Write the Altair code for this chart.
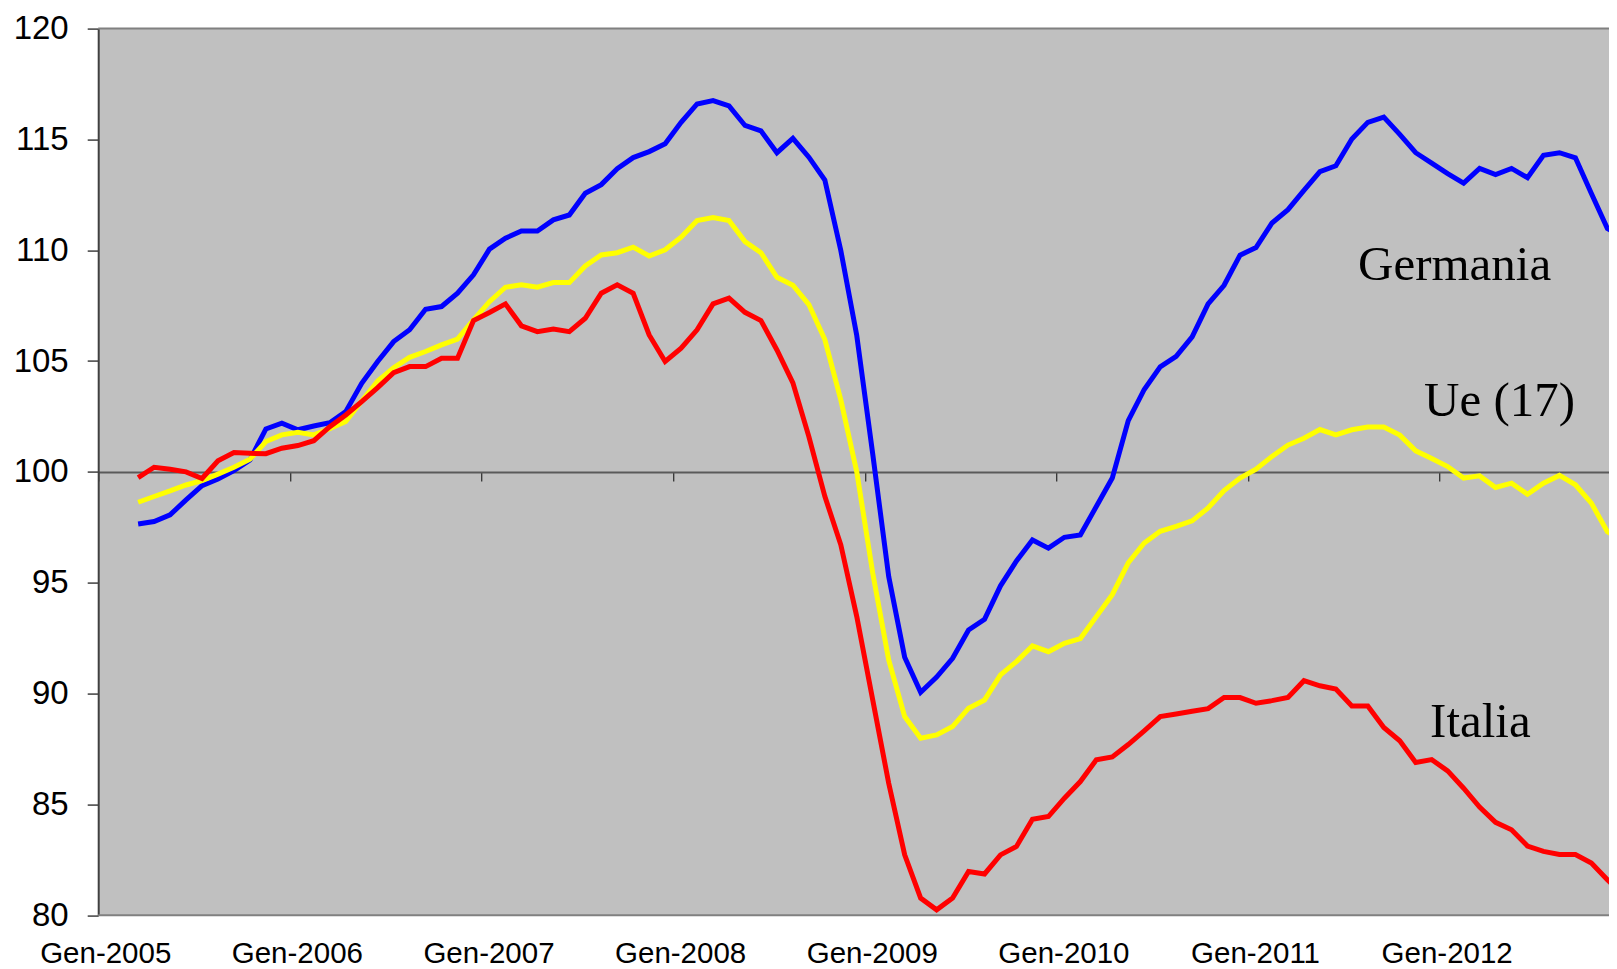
import altair as alt
import pandas as pd

# Month index: 0 = Gen-2005; data start at Mar-2005 (index 2)
FIRST_MONTH = 2
MESI = ["Gen", "Feb", "Mar", "Apr", "Mag", "Giu", "Lug", "Ago", "Set", "Ott", "Nov", "Dic"]

germania = [97.65, 97.76, 98.06, 98.74, 99.38, 99.68, 100.06, 100.54, 101.94, 102.20,
            101.90, 102.07, 102.22, 102.72, 104.0, 104.98, 105.88, 106.41, 107.34, 107.46,
            108.06, 108.89, 110.05, 110.54, 110.87, 110.87, 111.37, 111.59, 112.57, 112.96,
            113.68, 114.18, 114.45, 114.80, 115.77, 116.60, 116.75, 116.51, 115.63, 115.39,
            114.40, 115.05, 114.20, 113.17, 109.99, 106.15, 100.8, 95.28, 91.64, 90.06,
            90.74, 91.59, 92.87, 93.35, 94.86, 95.98, 96.93, 96.56, 97.05, 97.15,
            98.44, 99.72, 102.31, 103.72, 104.74, 105.21, 106.09, 107.58, 108.42, 109.78,
            110.12, 111.23, 111.83, 112.70, 113.55, 113.81, 115.02, 115.77, 116.01, 115.23,
            114.40, 113.93, 113.46, 113.03, 113.69, 113.41, 113.69, 113.27, 114.28, 114.40,
            114.17, 112.56, 110.98, 110.6]

ue17 = [98.63, 98.89, 99.14, 99.41, 99.61, 99.90, 100.21, 100.57, 101.37, 101.67,
        101.79, 101.67, 101.95, 102.27, 103.2, 104.1, 104.7, 105.17, 105.43, 105.73,
        105.99, 106.86, 107.68, 108.33, 108.44, 108.33, 108.54, 108.54, 109.29, 109.79,
        109.89, 110.14, 109.74, 110.02, 110.59, 111.34, 111.47, 111.34, 110.39, 109.89,
        108.78, 108.42, 107.55, 105.97, 103.25, 100.0, 95.43, 91.52, 88.96, 87.98,
        88.13, 88.51, 89.34, 89.71, 90.84, 91.44, 92.15, 91.89, 92.27, 92.48,
        93.47, 94.46, 95.9, 96.79, 97.32, 97.54, 97.79, 98.37, 99.16, 99.72,
        100.12, 100.70, 101.21, 101.52, 101.91, 101.67, 101.90, 102.02, 102.02, 101.66,
        100.95, 100.60, 100.24, 99.72, 99.82, 99.30, 99.49, 98.99, 99.49, 99.84,
        99.42, 98.59, 97.30, 96.9]

italia = [99.74, 100.21, 100.12, 100.0, 99.70, 100.5, 100.87, 100.84, 100.82, 101.07,
          101.19, 101.41, 102.04, 102.57, 103.17, 103.8, 104.48, 104.75, 104.75, 105.13,
          105.13, 106.83, 107.19, 107.58, 106.59, 106.33, 106.45, 106.33, 106.93, 108.06,
          108.44, 108.06, 106.18, 104.98, 105.58, 106.41, 107.58, 107.84, 107.2, 106.83,
          105.50, 104.02, 101.59, 98.9, 96.71, 93.47, 89.71, 85.95, 82.72, 80.77,
          80.24, 80.77, 81.97, 81.86, 82.72, 83.10, 84.33, 84.45, 85.28, 86.03,
          87.01, 87.14, 87.7, 88.32, 88.96, 89.08, 89.20, 89.32, 89.82, 89.82,
          89.56, 89.68, 89.82, 90.58, 90.35, 90.20, 89.44, 89.44, 88.47, 87.87,
          86.89, 87.02, 86.51, 85.73, 84.88, 84.19, 83.85, 83.12, 82.88, 82.74,
          82.74, 82.35, 81.6, 80.9]

series_names = ["Germania", "Ue (17)", "Italia"]
series_colors = ["#0000FF", "#FFFF00", "#FF0000"]
series_values = [germania, ue17, italia]

# year boundaries (category edges before each January)
year_ticks = [12 * i - 0.5 for i in range(8)]
y_ticks = [80, 85, 90, 95, 100, 105, 110, 115, 120]
y_limits = [80, 120]

# in-chart labels: (text, month position, value)
label_texts = ["Germania", "Ue (17)", "Italia"]
label_x = [78.39, 82.52, 82.9]
label_y = [108.66, 102.52, 88.04]

rows = []
for name, vals in zip(series_names, series_values):
    for i, v in enumerate(vals):
        k = FIRST_MONTH + i
        rows.append({"serie": name, "k": k, "mese": f"{MESI[k % 12]}-{2005 + k // 12}", "v": v})
df = pd.DataFrame(rows)
df_labels = pd.DataFrame({"t": label_texts, "x": label_x, "y": label_y})
df_ticks = pd.DataFrame({"k": year_ticks})
df_border = pd.DataFrame({"b": y_limits})

PLOT_W = 1510.8
MONTH_PX = 15.97
XMAX = -0.5 + PLOT_W / MONTH_PX
xscale = alt.Scale(domain=[-0.5, XMAX], nice=False, zero=False)
yscale = alt.Scale(domain=y_limits, nice=False, zero=False)

SANS = "Arial, Liberation Sans, sans-serif"

label_axis = alt.Axis(
    orient="bottom", values=year_ticks,
    labelExpr="'Gen-' + (2005 + round((datum.value + 0.5) / 12))",
    domain=False, ticks=False, tickSize=0, grid=False,
    labelFont=SANS, labelFontSize=29.5, labelColor="black",
    labelPadding=47, labelBaseline="alphabetic", labelOffset=7,
    labelFlush=False, labelOverlap=False, title=None,
)
tick_axis = alt.Axis(
    orient="bottom", values=year_ticks, labels=False,
    domain=True, domainColor="#5a5a5a", domainWidth=2,
    ticks=True, tickSize=9, tickColor="#333333", tickWidth=1.3,
    grid=False, offset=-443.3, title=None,
)
y_axis = alt.Axis(
    values=y_ticks, domain=True, domainColor="#404040", domainWidth=2,
    ticks=True, tickSize=11, tickColor="#404040", tickWidth=1.5,
    labelFont=SANS, labelFontSize=33, labelColor="black", labelPadding=19,
    grid=False, title=None,
)

layers = []
# plot-area top and bottom borders
layers.append(
    alt.Chart(df_border).mark_rule(color="#808080", strokeWidth=2).encode(
        y=alt.Y("b:Q", scale=yscale, axis=y_axis),
    )
)
# invisible layer carrying the axis drawn on the 100 line
layers.append(
    alt.Chart(df_ticks).mark_point(opacity=0).encode(
        x=alt.X("k:Q", scale=xscale, axis=tick_axis),
    )
)
for idx, (name, col) in enumerate(zip(series_names, series_colors)):
    layers.append(
        alt.Chart(df).transform_filter(alt.datum.serie == name)
        .mark_line(color=col, strokeWidth=5, clip=True)
        .encode(
            x=alt.X("k:Q", scale=xscale, axis=label_axis if idx == 0 else None),
            y=alt.Y("v:Q", scale=yscale, axis=y_axis),
            order="k:Q",
        )
    )
layers.append(
    alt.Chart(df_labels).mark_text(
        font="Liberation Serif, Times New Roman, serif", fontSize=49,
        align="left", baseline="alphabetic", color="black",
    ).encode(
        x=alt.X("x:Q", scale=xscale, axis=None),
        y=alt.Y("y:Q", scale=yscale, axis=y_axis),
        text="t:N",
    )
)

chart = (
    alt.layer(*layers)
    .resolve_axis(x="independent")
    .properties(
        width=PLOT_W, height=886.6,
        padding={"left": 90.2, "top": 20.6, "right": 0, "bottom": 56},
        autosize=alt.AutoSizeParams(type="none"),
        background="white",
    )
    .configure_view(fill="#C0C0C0", strokeWidth=0)
)

chart.save("out.html", embed_options={"renderer": "svg", "actions": False})
